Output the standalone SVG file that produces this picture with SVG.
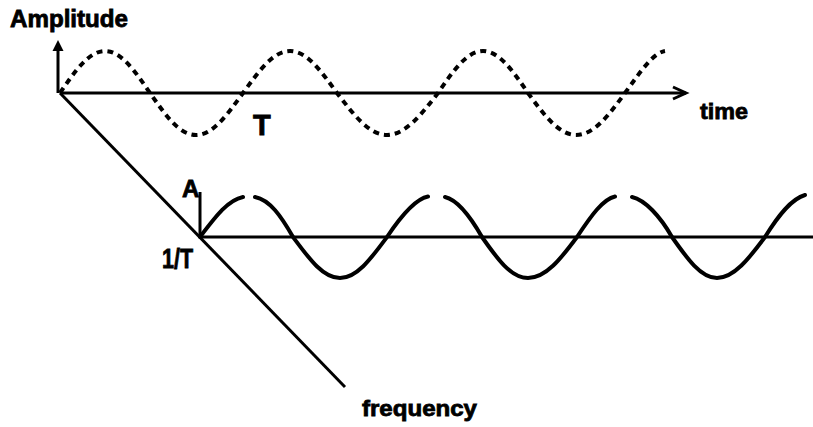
<svg xmlns="http://www.w3.org/2000/svg" width="813" height="427" viewBox="0 0 813 427">
<style>
.lbl{font-family:"Liberation Sans",Arial,sans-serif;font-weight:bold;fill:#000;stroke:#000;stroke-width:0.8}
.ax{stroke:#000;stroke-width:3;fill:none}
.wave{stroke:#000;stroke-width:4;fill:none;stroke-linecap:round}
.dash{stroke:#000;stroke-width:4;fill:none;stroke-dasharray:6 5}
</style>
<rect width="813" height="427" fill="#fff"/>
<g id="connectors">
<line class="ax" x1="60" y1="93" x2="686" y2="93"/>
<polyline class="ax" points="673,87 686,93 673,99"/>
<line class="ax" x1="58" y1="93" x2="58" y2="50" stroke-width="4"/>
<polygon points="58,40 52.5,51 63.5,51" fill="#000"/>
<line class="ax" x1="60" y1="93" x2="345" y2="387" stroke-width="4"/>
<line class="ax" x1="200" y1="237" x2="813" y2="237"/>
<line class="ax" x1="200" y1="237" x2="200" y2="192" stroke-width="3.5"/>
</g>
<g id="time-signal">
<path class="dash" d="M60,93 C75,71 89,51 105,51 C121,51 135,71 150,93 C165.5,115 179,135 196,135 C213,135 227,115 243,93 C259,71 273,51 290,51 C307,51 321,71 337,93 C354,115 369,135 387,135 C405,135 421,115 438,93 C453,71 467,51 483,51 C499,51 513,71 528,93 C544,115 559,135 576,135 C594,135 609,115 625,93 C641,71 653,53 665,51"/>
</g>
<g id="frequency-signal">
<path class="wave" d="M200,237 C216,216 228,200 243,197 M255,197 C270,200 281,216 293,237 C309,258.5 323,278 340,278 C357,278 371,258.5 387,237 C401,216 415,199 428,196.5 M445,197 C458,200 470,216 482,237 C497,258.5 511,278 528,278 C546,278 561,258.5 577,237 C591,216 603,199 615,196.5 M632,197 C645,200 660,216 672,237 C687,258.5 701,278 717,278 C734,278 749,258.5 765,237 C778,216 791,199 805,195"/>
</g>
<g id="label-amplitude"><text class="lbl" x="10" y="27" font-size="23" textLength="118" lengthAdjust="spacingAndGlyphs">Amplitude</text></g>
<g id="label-time"><text class="lbl" x="700" y="119" font-size="22" textLength="48" lengthAdjust="spacingAndGlyphs">time</text></g>
<g id="label-T"><text class="lbl" x="253" y="135" font-size="29">T</text></g>
<g id="label-A"><text class="lbl" x="182" y="197" font-size="24">A</text></g>
<g id="label-1T"><text class="lbl" x="162" y="268" font-size="27" textLength="31" lengthAdjust="spacingAndGlyphs">1/T</text></g>
<g id="label-frequency"><text class="lbl" x="362" y="416" font-size="22" textLength="115" lengthAdjust="spacingAndGlyphs">frequency</text></g>
</svg>
